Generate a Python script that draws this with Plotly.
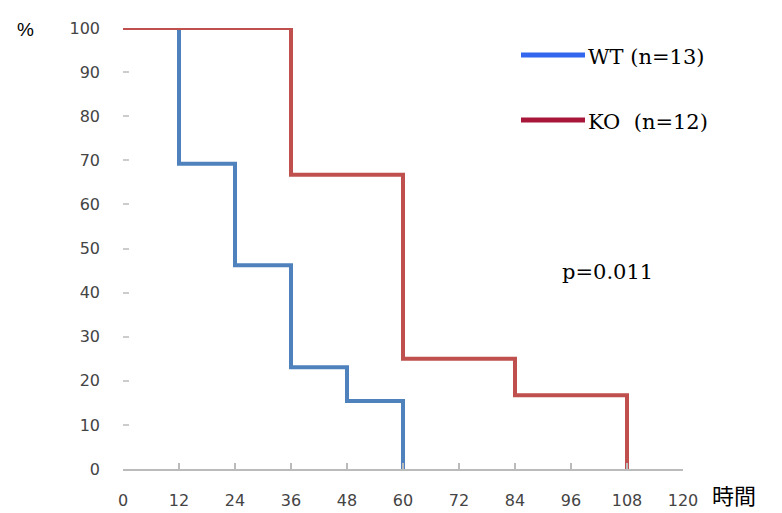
import plotly.graph_objects as go

# Data (months vs. % survival)
wt_times = [0, 12, 24, 36, 48, 60]
wt_surv = [100, 69.2, 46.2, 23.1, 15.4, 0]
ko_times = [0, 36, 60, 84, 108]
ko_surv = [100, 66.7, 25, 16.7, 0]
x_ticks = [0, 12, 24, 36, 48, 60, 72, 84, 96, 108, 120]
y_ticks = [0, 10, 20, 30, 40, 50, 60, 70, 80, 90, 100]
wt_label = "WT (n=13)"
ko_label = "KO  (n=12)"
p_text = "p=0.011"

wt_color = "#4F81BD"
ko_color = "#C0504D"

fig = go.Figure()
fig.add_trace(go.Scatter(x=wt_times, y=wt_surv, mode="lines", line_shape="hv",
                         line=dict(color=wt_color, width=4), cliponaxis=False,
                         showlegend=False))
fig.add_trace(go.Scatter(x=ko_times, y=ko_surv, mode="lines", line_shape="hv",
                         line=dict(color=ko_color, width=4), cliponaxis=False,
                         showlegend=False))

tick_font = dict(family="DejaVu Sans", size=16, color="#444444")
fig.update_xaxes(range=[0, 120], tickvals=x_ticks, ticktext=[str(v) for v in x_ticks],
                 showgrid=False, zeroline=False, showline=True, linecolor="#BBBBBB",
                 linewidth=2, ticks="inside", ticklen=6, tickcolor="#BBBBBB",
                 tickwidth=2, tickfont=tick_font, ticklabelstandoff=16, automargin=False)
fig.update_yaxes(range=[0, 100], tickvals=y_ticks, ticktext=[str(v) for v in y_ticks],
                 showgrid=False, zeroline=False, showline=False,
                 ticks="inside", ticklen=6, tickcolor="#CCCCCC", tickwidth=2,
                 tickfont=tick_font, ticklabelstandoff=22, automargin=False)

serif = "DejaVu Serif"
# Legend drawn manually
fig.add_shape(type="line", xref="paper", yref="paper", x0=(521-123)/560, x1=(585-123)/560,
              y0=(469-55)/441, y1=(469-55)/441, line=dict(color="#3366EE", width=5))
fig.add_shape(type="line", xref="paper", yref="paper", x0=(521-123)/560, x1=(585-123)/560,
              y0=(469-120)/441, y1=(469-120)/441, line=dict(color="#A8173A", width=5))
fig.add_annotation(xref="paper", yref="paper", x=(586-123)/560, y=(469-57)/441,
                   text=wt_label, showarrow=False, xanchor="left", yanchor="middle",
                   font=dict(family=serif, size=21, color="#000000"))
fig.add_annotation(xref="paper", yref="paper", x=(586-123)/560, y=(469-122)/441,
                   text=ko_label, showarrow=False, xanchor="left", yanchor="middle",
                   font=dict(family=serif, size=21, color="#000000"))
fig.add_annotation(xref="paper", yref="paper", x=(560-123)/560, y=(469-272)/441,
                   text=p_text, showarrow=False, xanchor="left", yanchor="middle",
                   font=dict(family=serif, size=21, color="#000000"))
fig.add_annotation(xref="paper", yref="paper", x=(15-123)/560, y=(469-30)/441,
                   text="%", showarrow=False, xanchor="left", yanchor="middle",
                   font=dict(family="Liberation Sans", size=19, color="#000000"))
fig.add_annotation(xref="paper", yref="paper", x=(711-123)/560, y=(469-494)/441,
                   text="時間", showarrow=False, xanchor="left", yanchor="middle",
                   borderpad=0, font=dict(family="Noto Sans CJK JP", size=22, color="#000000"))

fig.update_layout(width=782, height=513, paper_bgcolor="white", plot_bgcolor="white",
                  margin=dict(l=123, r=99, t=28, b=44, autoexpand=False), showlegend=False)

fig.write_html("out.html")
